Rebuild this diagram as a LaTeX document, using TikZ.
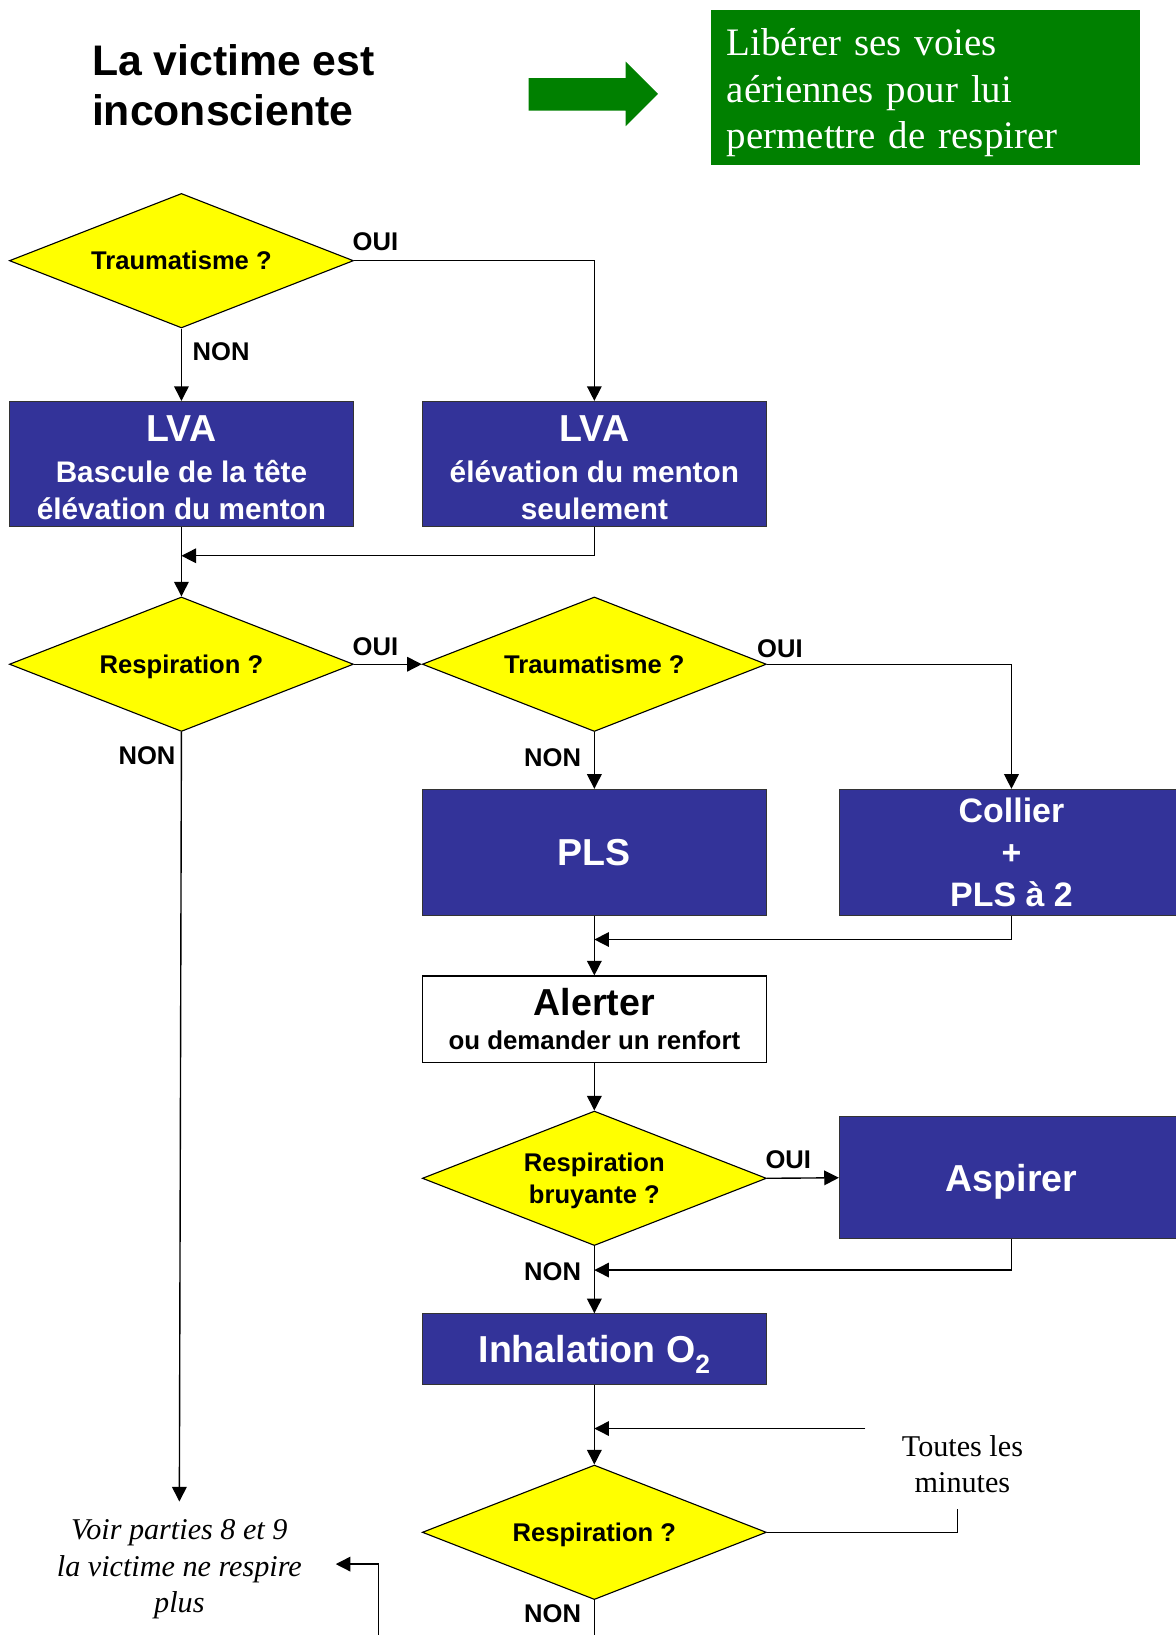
\documentclass[tikz,border=0pt]{standalone}
\usepackage{fontspec}
\setmainfont{Liberation Serif}
\newfontfamily\arialfont{Liberation Sans}
\usetikzlibrary{arrows.meta,shapes.geometric}
\definecolor{myyellow}{RGB}{255,255,0}
\definecolor{myblue}{RGB}{51,51,153}
\definecolor{mygreen}{RGB}{0,128,0}

\tikzset{
  question/.style={diamond, draw=black, line width=0.8pt, fill=myyellow,
    minimum width=247.5pt, minimum height=96.75pt, aspect=2.5, inner sep=0pt,
    text depth=0pt, align=center, font=\arialfont\bfseries\fontsize{18.4}{22.5}\selectfont},
  action/.style={rectangle, draw=black!80, line width=0.8pt, fill=myblue,
    text=white, minimum width=247.5pt, inner sep=0pt, align=center},
  lbl/.style={font=\arialfont\bfseries\fontsize{18.4}{22}\selectfont, inner sep=0pt},
  arr/.style={->, line width=1pt},
  link/.style={line width=1pt}
}

\begin{document}
\begin{tikzpicture}[x=0.75pt, y=-0.75pt, >={Triangle[length=10.5pt,width=10.5pt]}]
    \useasboundingbox (0,0) rectangle (1127,1568);

    % -- Heading: title, green arrow, green box --
    \node[anchor=north west, align=left, inner sep=0pt,
          font=\arialfont\bfseries\fontsize{30.75}{36}\selectfont]
        (titre) at (88,42) {La victime est\\inconsciente};
    \fill[mygreen] (507,75) -- (600,75) -- (600,59) -- (631,90)
        -- (600,121) -- (600,106) -- (507,106) -- cycle;
    \node[fill=mygreen, text=white, minimum width=308.25pt, minimum height=111pt,
          text width=285.75pt, inner xsep=11.25pt, align=left,
          font=\fontsize{28}{33.5}\selectfont]
        (voies) at (887.5,84) {\rule{0pt}{27pt}Libérer ses voies\\aériennes pour lui\\permettre de respirer};

    % -- Decisions --
    \node[question] (trauma1) at (174,250) {Traumatisme ?};
    \node[question] (resp1)   at (174,637) {Respiration ?};
    \node[question] (trauma2) at (570,637) {Traumatisme ?};
    \node[question] (bruit)   at (570,1130) {Respiration\\bruyante ?};
    \node[question] (resp2)   at (570,1469.5) {Respiration ?};

    % -- Actions --
    \node[action, minimum height=90pt, font=\arialfont\bfseries\fontsize{21.4}{26.25}\selectfont]
        (lvaA) at (174,445) {{\fontsize{27}{30}\selectfont\rule{0pt}{24pt}LVA}\\[3pt]Bascule de la tête\\élévation du menton};
    \node[action, minimum height=90pt, font=\arialfont\bfseries\fontsize{21.4}{26.25}\selectfont]
        (lvaB) at (570,445) {{\fontsize{27}{30}\selectfont\rule{0pt}{24pt}LVA}\\[3pt]élévation du menton\\seulement};
    \node[action, minimum height=90.75pt, font=\arialfont\bfseries\fontsize{27}{30}\selectfont]
        (pls) at (570,817.5) {PLS};
    \node[action, minimum height=90.75pt, font=\arialfont\bfseries\fontsize{24.4}{30}\selectfont]
        (collier) at (970,817.5) {Collier\\+\\PLS à 2};
    \node[action, fill=white, text=black, draw=black, minimum height=62.25pt,
          font=\arialfont\bfseries\fontsize{18.6}{23.25}\selectfont]
        (alert) at (570,977.5) {{\fontsize{27}{30}\selectfont Alerter}\\[1.5pt]ou demander un renfort};
    \node[action, minimum height=87.75pt, text depth=0pt, font=\arialfont\bfseries\fontsize{27}{30}\selectfont]
        (aspir) at (970,1129.5) {Aspirer};
    \node[action, minimum height=51pt, text depth=0pt, font=\arialfont\bfseries\fontsize{27}{30}\selectfont]
        (inhal) at (570,1294) {Inhalation O\raisebox{-0.28em}{\fontsize{19}{19}\selectfont 2}};

    % -- Side notes --
    \node[align=center, inner sep=0pt, font=\fontsize{21.7}{25.5}\selectfont]
        (minutes) at (923,1404) {Toutes les\\minutes};
    \node[align=center, inner sep=0pt, font=\itshape\fontsize{21.7}{26.25}\selectfont]
        (voir) at (172,1505) {Voir parties 8 et 9\\la victime ne respire\\plus};

    % -- OUI / NON --
    \foreach \x/\y/\t [count=\i] in {360/232/OUI, 212/337/NON, 360/620/OUI, 141/725/NON,
                                     748/622/OUI, 530/727/NON, 756/1112/OUI, 530/1220/NON,
                                     530/1548/NON}
        \node[lbl] (rep\i) at (\x,\y) {\t};

    % -- Connectors --
    \coordinate (j1) at (174,533);
    \coordinate (j2) at (570,901);
    \coordinate (j3) at (570,1218);
    \coordinate (j4) at (570,1370);
    \coordinate (boucle) at (830,1370);
    \coordinate (voirin) at (172,1440);
    \coordinate (voirout) at (322,1500);
    \coordinate (sous) at (918,1447);
    \coordinate (bas1) at (570,1570);
    \coordinate (bas2) at (363,1570);

    \draw[arr] (trauma1.east) -| (lvaB.north);
    \draw[arr] (trauma1.south) -- (lvaA.north);
    \draw[arr] (lvaA.south) -- (resp1.north);
    \draw[arr] (lvaB.south) |- (j1);
    \draw[arr] (resp1.east) -- (trauma2.west);
    \draw[arr] (trauma2.east) -| (collier.north);
    \draw[arr] (trauma2.south) -- (pls.north);
    \draw[arr] (resp1.south) -- (voirin);
    \draw[arr] (pls.south) -- (alert.north);
    \draw[arr] (collier.south) |- (j2);
    \draw[arr] (alert.south) -- (bruit.north);
    \draw[arr] (bruit.east) -- (aspir.west);
    \draw[arr] (aspir.south) |- (j3);
    \draw[arr] (bruit.south) -- (inhal.north);
    \draw[arr] (inhal.south) -- (resp2.north);
    \draw[arr] (boucle) -- (j4);
    \draw[link] (resp2.east) -| (sous);
    \draw[link] (resp2.south) -- (bas1);
    \draw[arr] (bas2) |- (voirout);
\end{tikzpicture}
\end{document}
